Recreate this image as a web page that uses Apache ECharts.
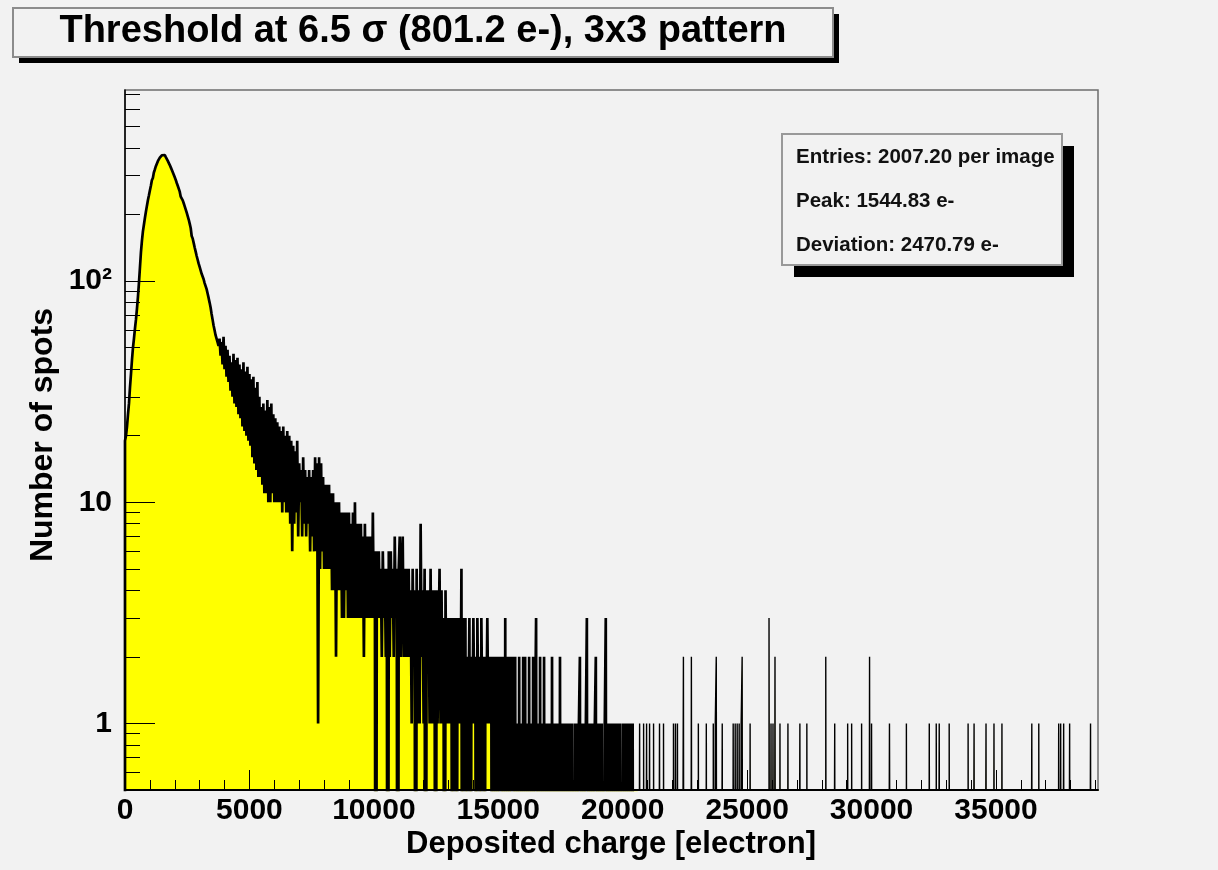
<!DOCTYPE html>
<html>
<head>
<meta charset="utf-8">
<script src="https://cdn.jsdelivr.net/npm/echarts@6/dist/echarts.min.js"></script>
<style>
  html, body { margin: 0; padding: 0; background: #f2f2f2; }
  #chart { width: 1218px; height: 870px; }
</style>
</head>
<body>
<div id="chart"></div>
<script>
// Histogram of cluster charge, 40 e- per bin.
const BIN_WIDTH = 40;
const X_MAX = 39100;
const SPARSE_START = 20600;   // above this only isolated bins are filled

// 0 - 3799 e-
const coreCounts = [
  19, 20, 22, 25, 28, 33, 38, 44, 50, 55,
  61, 67, 75, 85, 98, 115, 135, 152, 168, 180,
  193, 206, 219, 232, 244, 257, 270, 286, 293, 310,
  320, 331, 340, 349, 356, 362, 367, 371, 373, 372,
  369, 364, 357, 350, 343, 335, 327, 319, 311, 303,
  295, 287, 278, 270, 266, 254, 241, 239, 232, 225,
  218, 214, 204, 197, 190, 182, 174, 160, 156, 149,
  142, 136, 130, 125, 120, 116, 112, 108, 105, 102,
  98, 95, 92, 88, 84, 80, 76, 71, 67, 63,
  60, 57, 55, 53, 51
];

// 3800 - 9799 e-
const shoulderCounts = [
  55, 46, 53, 42, 56, 40, 51, 37, 49, 35,
  46, 32, 43, 30, 47, 28, 44, 27, 45, 25,
  42, 24, 40, 22, 43, 21, 39, 20, 41, 19,
  38, 18, 36, 16, 37, 15, 33, 14, 35, 13,
  30, 13, 27, 12, 28, 11, 26, 11, 29, 10,
  27, 10, 28, 11, 25, 10, 24, 10, 23, 10,
  22, 10, 21, 9, 22, 10, 20, 9, 21, 9,
  20, 8, 19, 6, 18, 8, 17, 9, 19, 7,
  15, 10, 14, 7, 16, 8, 14, 7, 13, 8,
  14, 6, 13, 7, 14, 6, 16, 6, 15, 1,
  16, 5, 15, 6, 13, 5, 12, 5, 12, 5,
  12, 5, 11, 4, 11, 4, 10, 2, 10, 4,
  10, 4, 9, 3, 9, 3, 9, 4, 9, 3,
  9, 3, 8, 3, 9, 3, 10, 3, 8, 3,
  8, 3, 8, 3, 7, 2, 8, 3, 7, 3
];

// 9800 - 20599 e-
const tailCounts = [
  7, 3, 7, 3, 9, 3, 6, 0, 6, 3,
  6, 3, 5, 2, 6, 3, 5, 2, 5, 0,
  6, 2, 6, 3, 5, 2, 7, 3, 5, 0,
  5, 7, 2, 5, 7, 2, 5, 2, 5, 2,
  5, 2, 4, 1, 5, 2, 4, 0, 5, 1,
  4, 1, 8, 2, 4, 1, 5, 0, 4, 2,
  4, 1, 5, 1, 4, 1, 4, 0, 4, 1,
  1, 5, 1, 4, 1, 3, 0, 4, 1, 3,
  1, 3, 1, 3, 0, 3, 1, 3, 0, 3,
  1, 3, 1, 5, 0, 3, 1, 3, 0, 2,
  1, 3, 0, 2, 1, 3, 1, 2, 0, 3,
  1, 2, 0, 3, 1, 2, 0, 2, 1, 3,
  1, 2, 1, 2, 0, 2, 0, 2, 0, 2,
  0, 2, 1, 2, 0, 2, 0, 3, 0, 2,
  0, 2, 0, 2, 1, 2, 0, 2, 0, 1,
  0, 2, 0, 1, 0, 2, 0, 2, 0, 1,
  0, 2, 0, 1, 0, 2, 0, 1, 3, 0,
  1, 0, 2, 0, 1, 0, 2, 0, 1, 0,
  1, 0, 1, 0, 2, 0, 1, 0, 1, 0,
  1, 0, 2, 0, 1, 0, 1, 0, 1, 0,
  1, 0, 1, 0, 1, 0, 0, 1, 0, 1,
  0, 1, 2, 0, 1, 0, 1, 0, 1, 3,
  0, 1, 0, 1, 0, 1, 0, 1, 2, 0,
  1, 0, 1, 0, 1, 0, 0, 1, 3, 0,
  1, 0, 1, 0, 1, 0, 1, 0, 1, 0,
  1, 0, 1, 0, 0, 1, 0, 1, 0, 1,
  0, 1, 0, 1, 0, 1, 0, 0, 0, 0
];

// Isolated non-empty bins above 20600 e-: [bin lower edge, count]
const sparseTail = [
  [20680, 1], [20840, 1], [20960, 1], [21080, 1], [21240, 1], [21480, 1], [21640, 1],
  [22040, 1], [22120, 1], [22200, 1], [22440, 2], [22760, 2], [23040, 1], [23360, 1],
  [23640, 1], [23720, 1], [23760, 2], [24000, 1], [24440, 1], [24520, 1], [24600, 1],
  [24680, 1], [24760, 1], [24800, 2], [25120, 1], [25880, 3], [25960, 1], [26040, 1],
  [26120, 2], [26320, 1], [26640, 1], [27120, 1], [27400, 1], [28160, 2], [28520, 1],
  [29040, 1], [29200, 1], [29600, 1], [29920, 2], [30000, 1], [30720, 1], [30760, 1],
  [31400, 1], [32320, 1], [32600, 1], [32720, 1], [33120, 1], [33880, 1], [34120, 1],
  [34600, 1], [34920, 1], [35240, 1], [36440, 1], [36720, 1], [37520, 1], [37600, 1],
  [37720, 1], [37960, 1], [38800, 1]
];

const xTickLabels = [0, 5000, 10000, 15000, 20000, 25000, 30000, 35000];
const yLabelValues = [1, 10, 100];
const yMinorTicks = [0.6, 0.7, 0.8, 0.9, 2, 3, 4, 5, 6, 7, 8, 9,
                     20, 30, 40, 50, 60, 70, 80, 90, 200, 300, 400, 500, 600, 700];

const titleText = 'Threshold at 6.5 \u03c3 (801.2 e-), 3x3 pattern';
const statsLines = ['Entries: 2007.20 per image', 'Peak: 1544.83 e-', 'Deviation: 2470.79 e-'];
const xTitle = 'Deposited charge [electron]';
const yTitle = 'Number of spots';

// Assemble the full bin list
const nBins = Math.ceil(X_MAX / BIN_WIDTH);
const counts = new Array(nBins).fill(0);
coreCounts.concat(shoulderCounts, tailCounts).forEach((c, i) => { counts[i] = c; });
sparseTail.forEach(([edge, c]) => { counts[Math.round(edge / BIN_WIDTH)] = c; });

// Empty bins go far below the log axis floor and get clipped by the grid
const FLOOR = 1e-3;
function stepLine(fromBin, toBin) {
  const pts = [[fromBin * BIN_WIDTH, FLOOR]];
  for (let i = fromBin; i < toBin; i++) {
    pts.push([i * BIN_WIDTH, counts[i] > 0 ? counts[i] : FLOOR]);
  }
  pts.push([toBin * BIN_WIDTH, FLOOR]);
  return pts;
}
const splitBin = Math.round(SPARSE_START / BIN_WIDTH);
const denseData = stepLine(0, splitBin);
const sparseData = stepLine(splitBin, nBins);

const xMinorTicks = [];
for (let v = 1000; v < X_MAX; v += 1000) if (v % 5000 !== 0) xMinorTicks.push(v);

const FONT = 'Liberation Sans';
const GRID = { left: 125, top: 90, width: 973, height: 700 };

function histSeries(data, width) {
  return {
    type: 'line',
    xAxisIndex: 0, yAxisIndex: 0,
    data: data,
    step: 'end',
    showSymbol: false,
    symbol: 'none',
    clip: true,
    sampling: null,
    lineStyle: { color: '#000', width: width },
    areaStyle: { color: '#ffff00', opacity: 1, origin: 'start' },
    z: 2
  };
}

const chart = echarts.init(document.getElementById('chart'), null, { renderer: 'canvas' });
chart.setOption({
  backgroundColor: '#f2f2f2',
  animation: false,
  grid: Object.assign({ show: true, borderColor: '#6e6e6e', borderWidth: 1.5, backgroundColor: 'transparent' }, GRID),
  xAxis: [
    {
      type: 'value', min: 0, max: X_MAX, position: 'bottom', z: 10,
      axisLine: { show: true, lineStyle: { color: '#000', width: 2 } },
      axisTick: { show: true, inside: true, length: 10, customValues: xMinorTicks, lineStyle: { color: '#000' } },
      axisLabel: {
        customValues: xTickLabels, margin: 6,
        fontFamily: FONT, fontSize: 30, fontWeight: 'bold', color: '#000',
        formatter: v => String(v)
      },
      splitLine: { show: false }
    },
    {
      type: 'value', min: 0, max: X_MAX, position: 'bottom', z: 10,
      axisLine: { show: false },
      axisTick: { show: true, inside: true, length: 20, customValues: xTickLabels, lineStyle: { color: '#000' } },
      axisLabel: { show: false },
      splitLine: { show: false }
    }
  ],
  yAxis: [
    {
      type: 'log', logBase: 10, min: 0.5, max: 732, position: 'left', z: 10,
      axisLine: { show: true, lineStyle: { color: '#000', width: 1.5 } },
      axisTick: { show: true, inside: true, length: 15, customValues: yMinorTicks, lineStyle: { color: '#000' } },
      axisLabel: {
        customValues: yLabelValues, margin: 13,
        fontFamily: FONT, fontSize: 30, fontWeight: 'bold', color: '#000',
        formatter: v => (Math.abs(v - 100) < 1e-6 ? '10\u00b2' : String(Math.round(v)))
      },
      splitLine: { show: false }
    },
    {
      type: 'log', logBase: 10, min: 0.5, max: 732, position: 'left', z: 10,
      axisLine: { show: false },
      axisTick: { show: true, inside: true, length: 30, customValues: yLabelValues, lineStyle: { color: '#000' } },
      axisLabel: { show: false },
      splitLine: { show: false }
    }
  ],
  series: [
    histSeries(denseData, 2.7),
    histSeries(sparseData, 1.4)
  ],
  graphic: [
    { type: 'rect', z: 100, shape: { x: 19, y: 14, width: 820, height: 49 }, style: { fill: '#000' } },
    { type: 'rect', z: 101, shape: { x: 13, y: 8, width: 820, height: 49 },
      style: { fill: '#f2f2f2', stroke: '#8c8c8c', lineWidth: 2 } },
    { type: 'text', z: 102, x: 423, y: 32,
      style: { text: titleText, fontFamily: FONT, fontSize: 38, fontWeight: 'bold', fill: '#000',
               textAlign: 'center', textVerticalAlign: 'middle' } },

    { type: 'rect', z: 100, shape: { x: 794, y: 146, width: 280, height: 131 }, style: { fill: '#000' } },
    { type: 'rect', z: 101, shape: { x: 782, y: 134, width: 280, height: 131 },
      style: { fill: '#f2f2f2', stroke: '#999', lineWidth: 2 } },
    ...statsLines.map((t, i) => ({
      type: 'text', z: 102, x: 796, y: 157 + i * 44,
      style: { text: t, fontFamily: FONT, fontSize: 20.5, fontWeight: 'bold', fill: '#111',
               textAlign: 'left', textVerticalAlign: 'middle' }
    })),

    { type: 'text', z: 102, x: 611, y: 844,
      style: { text: xTitle, fontFamily: FONT, fontSize: 31, fontWeight: 'bold', fill: '#000',
               textAlign: 'center', textVerticalAlign: 'middle' } },
    { type: 'text', z: 102, x: 43, y: 435, rotation: Math.PI / 2,
      style: { text: yTitle, fontFamily: FONT, fontSize: 32, fontWeight: 'bold', fill: '#000',
               textAlign: 'center', textVerticalAlign: 'middle' } }
  ]
});
</script>
</body>
</html>
